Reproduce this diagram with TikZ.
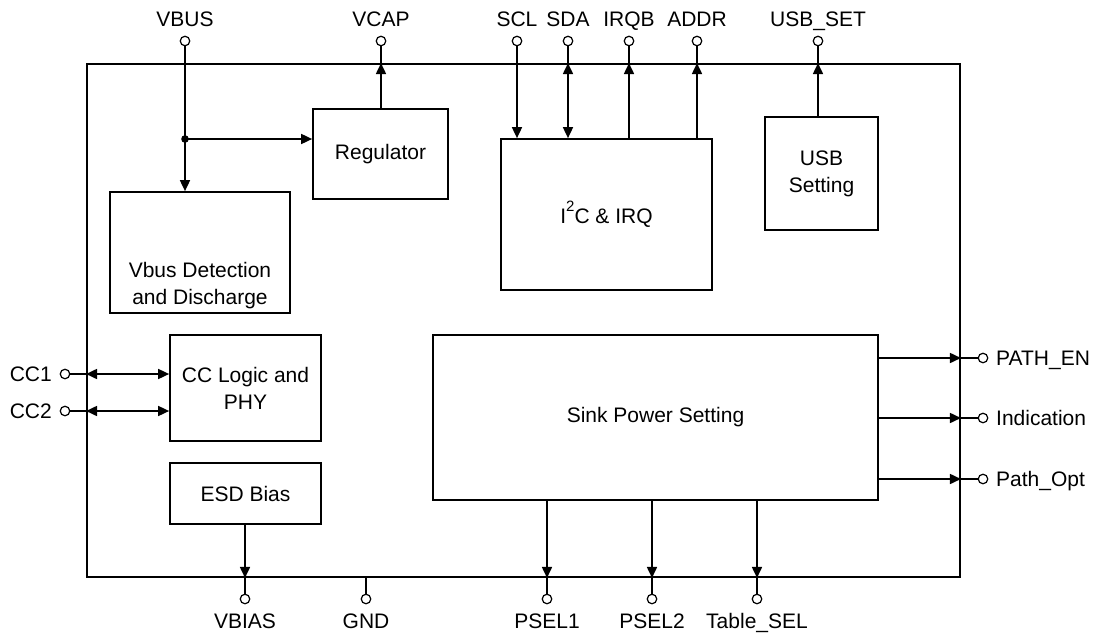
\documentclass[tikz,border=0pt]{standalone}
\usepackage{fontspec}
\setmainfont{Liberation Sans}
\usetikzlibrary{arrows.meta}

\begin{document}
\begin{tikzpicture}[x=1pt, y=-1pt, line width=1.7pt,
        every node/.style={font=\fontsize{21}{27}\selectfont},
        blk/.style={draw, rectangle, align=center, inner sep=0pt},
        term/.style={circle, draw, fill=white, line width=1.2pt, inner sep=0pt, minimum size=9.5pt},
        lbl/.style={inner sep=0pt, text height=14.5pt, text depth=0pt},
        >={Triangle[length=11pt, width=10pt]}]
        \useasboundingbox (0,0) rectangle (1101,640);

        % blocks
        \node[blk, line width=1.9pt, minimum width=873pt, minimum height=513pt] (chip) at (523.5,320.5) {};
        \node[blk, minimum width=135pt, minimum height=90pt] (reg) at (380.5,154) {Regulator};
        \node[blk, minimum width=180pt, minimum height=121pt] (vbd) at (200,252.5) {};
        \node[align=center, inner sep=0pt] (vbdtxt) at (200,286) {Vbus Detection\\and Discharge};
        \node[blk, minimum width=211pt, minimum height=151pt] (i2c) at (606.5,214.5) {I\raisebox{0.55em}{\fontsize{15}{15}\selectfont 2}C \& IRQ};
        \node[blk, minimum width=113pt, minimum height=113pt] (usb) at (821.5,173.5) {USB\\Setting};
        \node[blk, minimum width=151pt, minimum height=106pt] (cc) at (245.5,388) {CC Logic and\\PHY};
        \node[blk, minimum width=151pt, minimum height=61pt] (esd) at (245.5,493.5) {ESD Bias};
        \node[blk, minimum width=445pt, minimum height=165pt] (sink) at (655.5,417.5) {Sink Power Setting};

        % terminals
        \node[term, label={[lbl, label distance=8pt]above:VBUS}] (vbus) at (185,41) {};
        \node[term, label={[lbl, label distance=8pt]above:VCAP}] (vcap) at (381,41) {};
        \node[term, label={[lbl, label distance=8pt]above:SCL}] (scl) at (517,41) {};
        \node[term, label={[lbl, label distance=8pt]above:SDA}] (sda) at (568,41) {};
        \node[term, label={[lbl, label distance=8pt]above:IRQB}] (irqb) at (629,41) {};
        \node[term, label={[lbl, label distance=8pt]above:ADDR}] (addr) at (697,41) {};
        \node[term, label={[lbl, label distance=8pt]above:USB\_SET}] (usbset) at (818,41) {};
        \node[term, label={[lbl, label distance=7pt]left:CC1}] (cc1) at (65,374) {};
        \node[term, label={[lbl, label distance=7pt]left:CC2}] (cc2) at (65,411) {};
        \node[term, label={[lbl, label distance=7pt]right:PATH\_EN}] (pathen) at (983,358) {};
        \node[term, label={[lbl, label distance=7pt]right:Indication}] (ind) at (983,418) {};
        \node[term, label={[lbl, label distance=7pt]right:Path\_Opt}] (pathopt) at (983,479) {};
        \node[term, label={[lbl, label distance=9pt]below:VBIAS}] (vbias) at (245,599) {};
        \node[term, label={[lbl, label distance=9pt]below:GND}] (gnd) at (366,599) {};
        \node[term, label={[lbl, label distance=9pt]below:PSEL1}] (psel1) at (547,599) {};
        \node[term, label={[lbl, label distance=9pt]below:PSEL2}] (psel2) at (652,599) {};
        \node[term, label={[lbl, label distance=9pt]below:Table\_SEL}] (tblsel) at (757,599) {};

        % top side
        \coordinate (jn) at (185,139);
        \draw[->] (vbus) -- (vbus |- vbd.north);
        \fill (jn) circle (3.8pt);
        \draw[->] (jn) -- (jn -| reg.west);
        \draw[->] (vcap |- reg.north) -- (vcap |- chip.north);
        \draw (vcap |- chip.north) -- (vcap);
        \draw[->] (scl) -- (scl |- i2c.north);
        \draw[<->] (sda |- chip.north) -- (sda |- i2c.north);
        \draw (sda) -- (sda |- chip.north);
        \draw[->] (irqb |- i2c.north) -- (irqb |- chip.north);
        \draw (irqb |- chip.north) -- (irqb);
        \draw[->] (addr |- i2c.north) -- (addr |- chip.north);
        \draw (addr |- chip.north) -- (addr);
        \draw[->] (usbset |- usb.north) -- (usbset |- chip.north);
        \draw (usbset |- chip.north) -- (usbset);

        % left side
        \draw[<->] (cc1 -| chip.west) -- (cc1 -| cc.west);
        \draw (cc1) -- (cc1 -| chip.west);
        \draw[<->] (cc2 -| chip.west) -- (cc2 -| cc.west);
        \draw (cc2) -- (cc2 -| chip.west);

        % right side
        \draw[->] (pathen -| sink.east) -- (pathen -| chip.east);
        \draw (pathen -| chip.east) -- (pathen);
        \draw[->] (ind -| sink.east) -- (ind -| chip.east);
        \draw (ind -| chip.east) -- (ind);
        \draw[->] (pathopt -| sink.east) -- (pathopt -| chip.east);
        \draw (pathopt -| chip.east) -- (pathopt);

        % bottom side
        \draw[->] (vbias |- esd.south) -- (vbias |- chip.south);
        \draw (vbias |- chip.south) -- (vbias);
        \draw (gnd |- chip.south) -- (gnd);
        \draw[->] (psel1 |- sink.south) -- (psel1 |- chip.south);
        \draw (psel1 |- chip.south) -- (psel1);
        \draw[->] (psel2 |- sink.south) -- (psel2 |- chip.south);
        \draw (psel2 |- chip.south) -- (psel2);
        \draw[->] (tblsel |- sink.south) -- (tblsel |- chip.south);
        \draw (tblsel |- chip.south) -- (tblsel);
    \end{tikzpicture}
\end{document}
